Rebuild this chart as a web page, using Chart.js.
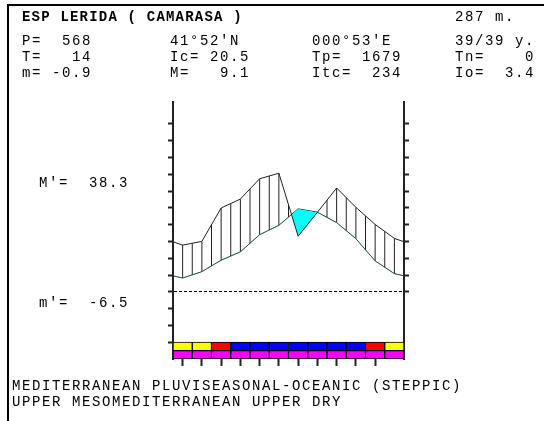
<!DOCTYPE html>
<html>
<head>
<meta charset="utf-8">
<script src="https://cdn.jsdelivr.net/npm/chart.js@4.4.0/dist/chart.umd.min.js"></script>
<style>
    html, body { margin: 0; padding: 0; background: #fff; }
    body { position: relative; width: 544px; height: 421px; overflow: hidden; }
    #frame {
        position: absolute; left: 7px; top: 4px; right: 0; bottom: 0;
        border-left: 2px solid #000; border-top: 2px solid #000;
    }
    #diagram { position: absolute; left: 0; top: 0; }
    .txt {
        position: absolute; white-space: pre; color: #000;
        font-family: "Liberation Mono", "DejaVu Sans Mono", monospace;
        font-size: 14px; letter-spacing: 1.6px; line-height: 16px;
    }
    .bold { font-weight: bold; letter-spacing: 1.2px; }
</style>
</head>
<body>
<div id="frame"></div>
<canvas id="diagram" width="544" height="421"></canvas>
<div id="labels"></div>
<script>
// 월별 값 (1월 ~ 12월)
const MONTHS = ['Jan', 'Feb', 'Mar', 'Apr', 'May', 'Jun', 'Jul', 'Aug', 'Sep', 'Oct', 'Nov', 'Dec'];
const TEMP = [4.1, 6.0, 9.4, 11.9, 17.0, 19.8, 24.7, 23.7, 20.6, 15.8, 9.2, 5.4];     // °C
const PREC = [27.8, 30.0, 49.9, 55.2, 67.3, 70.6, 33.1, 47.3, 61.8, 50.3, 40.1, 31.8]; // mm

// 서리 막대 (윗줄 / 아랫줄)
const FROST_TOP = ['#ffff00', '#ffff00', '#ff0000', '#0000ff', '#0000ff', '#0000ff', '#0000ff',
                   '#0000ff', '#0000ff', '#0000ff', '#ff0000', '#ffff00'];
const FROST_BOTTOM = ['#ff00ff', '#ff00ff', '#ff00ff', '#ff00ff', '#ff00ff', '#ff00ff',
                      '#ff00ff', '#ff00ff', '#ff00ff', '#ff00ff', '#ff00ff', '#ff00ff'];

// 축 눈금
const TEMP_TICKS = [-15, -10, -5, 0, 5, 10, 15, 20, 25, 30, 35, 40, 45, 50];
const PREC_TICKS = [0, 10, 20, 30, 40, 50, 60, 70, 80, 90, 100];
const MONTH_EDGES = [0, 1, 2, 3, 4, 5, 6, 7, 8, 9, 10, 11, 12];

// 텍스트
const TITLE = 'ESP LERIDA ( CAMARASA )';
const ALTITUDE = '287 m.';
const HEADER_ROWS = [
    ['P=  568', "41°52'N", "000°53'E", '39/39 y.'],
    ['T=   14', 'Ic= 20.5', 'Tp=  1679', 'Tn=    0'],
    ['m= -0.9', 'M=   9.1', 'Itc=  234', 'Io=  3.4']
];
const ABS_MAX = "M'=  38.3";
const ABS_MIN = "m'=  -6.5";
const FOOTER = [
    'MEDITERRANEAN PLUVISEASONAL-OCEANIC (STEPPIC)',
    'UPPER MESOMEDITERRANEAN UPPER DRY'
];

const LINE_COLOR = '#222';

class ClimateDiagram {
    constructor(canvasId) {
        this.canvas = document.getElementById(canvasId);
        this.chart = null;
    }

    /**
     * 월 중앙 위치에 값을 놓고, 양 끝은 12월/1월 평균으로 닫는다
     * @param {Array} values - 월별 값
     */
    toPoints(values) {
        const edge = (values[0] + values[values.length - 1]) / 2;
        const pts = values.map((v, i) => ({ x: i + 0.5, y: v }));
        return [{ x: 0, y: edge }, ...pts, { x: MONTHS.length, y: edge }];
    }

    valueAt(points, x) {
        for (let i = 1; i < points.length; i++) {
            const a = points[i - 1], b = points[i];
            if (x <= b.x) {
                return a.y + (b.y - a.y) * (x - a.x) / (b.x - a.x);
            }
        }
        return points[points.length - 1].y;
    }

    /**
     * 습윤 구간 세로 빗금 (반 달 간격)
     */
    hatchPoints(tempPts, precPts) {
        const out = [];
        for (let k = 1; k < MONTHS.length * 2; k++) {
            const x = k / 2;
            const t = this.valueAt(tempPts, x);
            const p = this.valueAt(precPts, x) / 2; // P = 2T 척도
            if (p - t > 0.3) {
                out.push({ x, y: t }, { x, y: p }, { x, y: null });
            }
        }
        return out;
    }

    render() {
        const tempPts = this.toPoints(TEMP);
        const precPts = this.toPoints(PREC);
        const ctx = this.canvas.getContext('2d');

        this.chart = new Chart(ctx, {
            type: 'line',
            data: {
                datasets: [
                    {
                        label: 'T',
                        data: tempPts,
                        yAxisID: 'y',
                        borderColor: LINE_COLOR,
                        borderWidth: 1,
                        pointRadius: 0,
                        fill: false,
                        order: 2
                    },
                    {
                        label: 'P',
                        data: precPts,
                        yAxisID: 'y2',
                        borderColor: LINE_COLOR,
                        borderWidth: 1,
                        pointRadius: 0,
                        fill: { target: 0, above: 'rgba(0,0,0,0)', below: '#00ffff' },
                        order: 1
                    },
                    {
                        label: 'hatch',
                        data: this.hatchPoints(tempPts, precPts),
                        yAxisID: 'y',
                        borderColor: LINE_COLOR,
                        borderWidth: 1,
                        pointRadius: 0,
                        spanGaps: false,
                        fill: false,
                        order: 3
                    },
                    {
                        type: 'bar',
                        label: 'frost',
                        data: FROST_TOP.map((c, i) => ({ x: i + 0.5, y: [-17.5, -15] })),
                        yAxisID: 'y',
                        backgroundColor: FROST_TOP,
                        borderColor: '#000',
                        borderWidth: 1,
                        borderSkipped: false,
                        grouped: false,
                        barPercentage: 1,
                        categoryPercentage: 1,
                        order: 4
                    },
                    {
                        type: 'bar',
                        label: 'base',
                        data: FROST_BOTTOM.map((c, i) => ({ x: i + 0.5, y: [-20, -17.5] })),
                        yAxisID: 'y',
                        backgroundColor: FROST_BOTTOM,
                        borderColor: '#000',
                        borderWidth: 1,
                        borderSkipped: false,
                        grouped: false,
                        barPercentage: 1,
                        categoryPercentage: 1,
                        order: 4
                    }
                ]
            },
            options: {
                responsive: false,
                animation: false,
                events: [],
                layout: { padding: { left: 168, right: 135, top: 102, bottom: 55 } },
                plugins: {
                    legend: { display: false },
                    tooltip: { enabled: false }
                },
                scales: {
                    x: {
                        type: 'linear',
                        min: 0,
                        max: 12,
                        offset: false,
                        afterBuildTicks: (s) => { s.ticks = MONTH_EDGES.map(v => ({ value: v })); },
                        ticks: { display: false },
                        grid: {
                            drawOnChartArea: false,
                            tickLength: 7,
                            tickWidth: 2,
                            tickColor: (c) => (c.tick && (c.tick.value === 0 || c.tick.value === 12))
                                ? 'rgba(0,0,0,0)' : LINE_COLOR
                        },
                        border: { display: false }
                    },
                    y: {
                        position: 'left',
                        min: -20,
                        max: 56.5,
                        afterBuildTicks: (s) => { s.ticks = TEMP_TICKS.map(v => ({ value: v })); },
                        ticks: { display: false },
                        grid: {
                            color: (c) => (c.tick && c.tick.value === 0) ? '#000' : 'rgba(0,0,0,0)',
                            lineWidth: 1,
                            tickLength: 5,
                            tickWidth: 2,
                            tickColor: LINE_COLOR
                        },
                        border: { display: true, color: LINE_COLOR, width: 2, dash: [3, 2] }
                    },
                    y2: {
                        position: 'right',
                        min: -40,
                        max: 113,
                        afterBuildTicks: (s) => { s.ticks = PREC_TICKS.map(v => ({ value: v })); },
                        ticks: { display: false },
                        grid: {
                            drawOnChartArea: false,
                            tickLength: 5,
                            tickWidth: 2,
                            tickColor: LINE_COLOR
                        },
                        border: { display: true, color: LINE_COLOR, width: 2 }
                    }
                }
            }
        });
    }
}

function addText(text, left, centerY, bold) {
    const el = document.createElement('div');
    el.className = bold ? 'txt bold' : 'txt';
    el.textContent = text;
    el.style.left = left + 'px';
    el.style.top = (centerY - 8) + 'px';
    document.getElementById('labels').appendChild(el);
}

const COLUMNS_X = [22, 170, 312, 455];
const ROWS_Y = [41, 57, 73];

addText(TITLE, 22, 17, true);
addText(ALTITUDE, COLUMNS_X[3], 17, false);
HEADER_ROWS.forEach((row, r) => {
    row.forEach((cell, c) => addText(cell, COLUMNS_X[c], ROWS_Y[r], false));
});
addText(ABS_MAX, 39, 183, false);
addText(ABS_MIN, 39, 303, false);
addText(FOOTER[0], 12, 386, false);
addText(FOOTER[1], 12, 402, false);

window.diagram = new ClimateDiagram('diagram');
window.diagram.render();
</script>
</body>
</html>
